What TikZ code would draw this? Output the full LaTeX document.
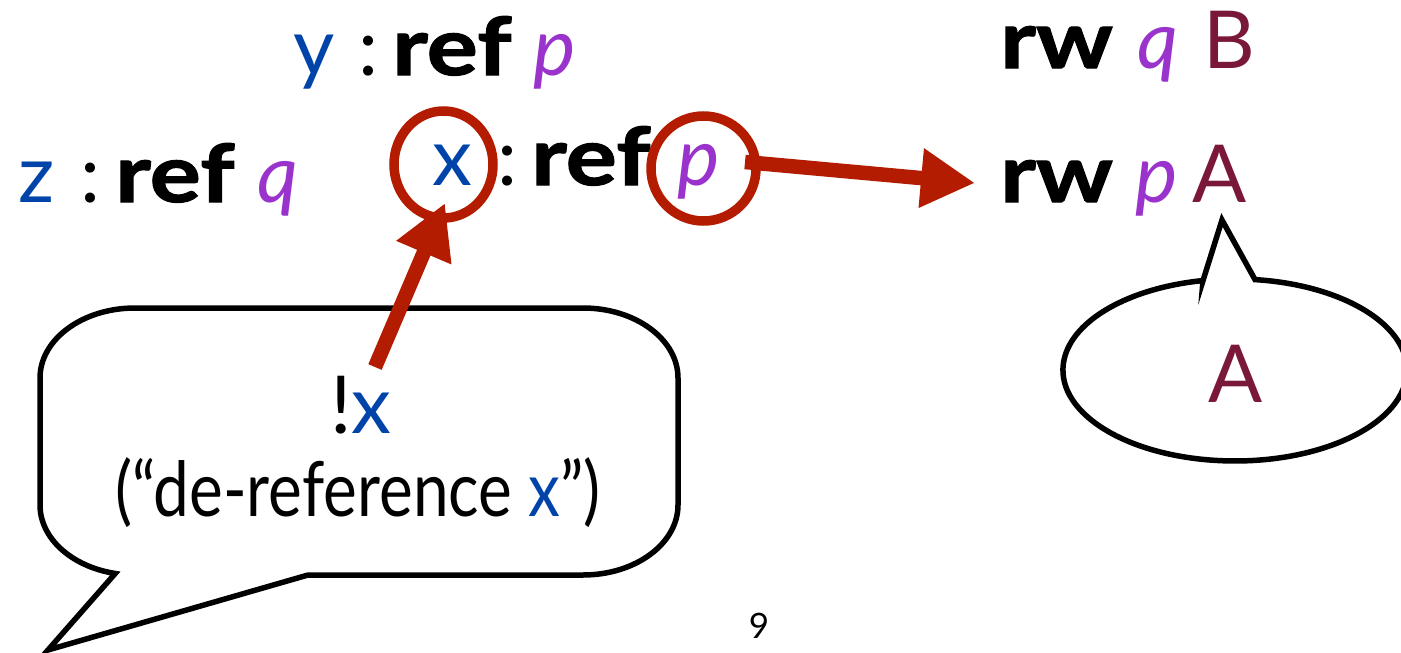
\documentclass[tikz,border=0pt]{standalone}
\usepackage{fontspec}
\setmainfont{Lato}[BoldFeatures={FakeStretch=1.2,FakeBold=1.5}]
\newfontfamily\narrowfont{Lato}[FakeStretch=0.84]
\usetikzlibrary{arrows.meta,shapes.geometric}
\definecolor{varblue}{HTML}{0044AA}
\definecolor{regpurple}{HTML}{9933CC}
\definecolor{locmaroon}{HTML}{7A183A}
\definecolor{markred}{HTML}{B41C00}
\begin{document}
\begin{tikzpicture}[x=1pt,y=-1pt,
  big/.style={font=\fontsize{80}{96}\selectfont},
  txt/.style={big, inner sep=0pt, anchor=base west},
  kw/.style={txt, font=\fontsize{80}{96}\selectfont\bfseries},
  var/.style={txt, text=varblue},
  rgn/.style={txt, text=regpurple, font=\fontsize{80}{96}\selectfont\itshape},
  loc/.style={txt, text=locmaroon},
  ring/.style={draw=markred, line width=9.5pt, ellipse, inner sep=0pt},
  pointer/.style={draw=markred, line width=14.5pt,
    -{Triangle[length=54pt,width=56pt]}, color=markred},
  bubble/.style={draw=black, fill=white, line width=5.5pt, line join=miter}]
\useasboundingbox (0,0) rectangle (1401,653);

% y : ref p
\node[var] (yv) at (293,75) {y};
\node[txt] (ycol) at (358,75) {:};
\node[kw]  (yref) at (392,75) {ref};
\node[rgn] (yp) at (533,75) {p};

% z : ref q
\node[var] (zv) at (18,202) {z};
\node[txt] (zcol) at (80,202) {:};
\node[kw]  (zref) at (115,202) {ref};
\node[rgn] (zq) at (257,202) {q};

% x : ref p
\node[var] (xv) at (432,185) {x};
\node[txt] (xcol) at (497,185) {:};
\node[kw]  (xref) at (531,185) {ref};
\node[rgn] (xp) at (677,185) {p};

% store entries
\node[kw]  (rw1) at (1000,68) {rw};
\node[rgn] (rw1q) at (1137,68) {q};
\node[loc] (rw1B) at (1203,68) {B};
\node[kw]  (rw2) at (1000,202) {rw};
\node[rgn] (rw2p) at (1135,202) {p};
\node[loc] (rw2A) at (1192,202) {A};

% highlight rings
\node[ring, minimum width=99pt, minimum height=107pt] (xring) at (443.5,164.5) {};
\node[ring, minimum width=105pt, minimum height=105pt] (pring) at (703.5,168.5) {};

% left speech bubble
\draw[bubble] (308,575) -- (583,575)
  arc[start angle=90, end angle=0, x radius=95, y radius=70] -- (678,378)
  arc[start angle=0, end angle=-90, x radius=95, y radius=70] -- (135,308)
  arc[start angle=-90, end angle=-180, x radius=95, y radius=70] -- (40,505)
  arc[start angle=180, end angle=102, x radius=95, y radius=70]
  -- (48,650) -- cycle;
\node[big, inner sep=0pt, anchor=base] (bang) at (361,433) {!\textcolor{varblue}{x}};
\node[inner sep=0pt, anchor=base, font=\fontsize{76}{92}\narrowfont] (gloss) at (358,516)
  {(“de-reference \textcolor{varblue}{x}”)};

% right speech bubble
\draw[bubble] (1203,280.6) -- (1222,220) -- (1255,279.6)
  arc[start angle=-83.3, end angle=259.3, x radius=172, y radius=91] -- cycle;
\node[big, inner sep=0pt, anchor=base, text=locmaroon] (val) at (1236,402) {A};

% pointers
\coordinate (derefstart) at (375,367);
\coordinate (derefend) at (445,203);
\coordinate (locstart) at (745,162);
\coordinate (locend) at (975,183);
\draw[pointer] (derefstart) -- (derefend);
\draw[pointer] (locstart) -- (locend);

% slide number
\node[inner sep=0pt, anchor=base, font=\fontsize{35}{40}\selectfont] (pagenum) at (759,638) {9};
\end{tikzpicture}
\end{document}
